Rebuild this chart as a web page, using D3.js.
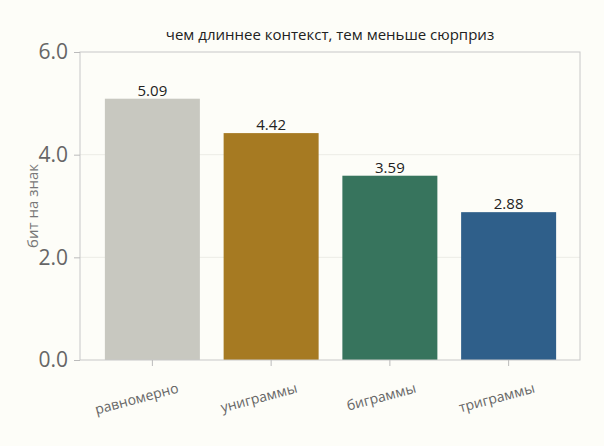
<!DOCTYPE html>
<html><head><meta charset="utf-8">
<script src="https://cdn.jsdelivr.net/npm/d3@7"></script>
<style>body{margin:0;background:#fdfdf8}svg{font-family:"Open Sans",sans-serif}</style>
</head><body><svg width="604" height="446"></svg>
<script>
const categories=["равномерно","униграммы","биграммы","триграммы"];
const values=[5.09,4.42,3.59,2.88];
const colors=["#c8c8c0","#a67a22","#37745d","#2f5f8a"];
const yTicks=[0,2,4,6];
const svg=d3.select("svg");
const L=80,R=580,T=52,B=360;
const x=d3.scaleBand().domain(categories).range([93,568]).paddingInner(0.2).paddingOuter(0.1);
const y=d3.scaleLinear().domain([0,6]).range([B,T]);
svg.append("rect").attr("width",604).attr("height",446).attr("fill","#fdfdf8");
svg.selectAll(".g").data([2,4]).enter().append("line").attr("x1",L).attr("x2",R)
 .attr("y1",d=>y(d)).attr("y2",d=>y(d)).attr("stroke","#ecece6").attr("stroke-width",1);
svg.selectAll(".b").data(values).enter().append("rect")
 .attr("x",(d,i)=>x(categories[i])).attr("width",x.bandwidth())
 .attr("y",d=>y(d)).attr("height",d=>B-y(d)).attr("fill",(d,i)=>colors[i]);
svg.selectAll(".v").data(values).enter().append("text")
 .attr("x",(d,i)=>x(categories[i])+x.bandwidth()/2).attr("y",d=>y(d)-3)
 .attr("text-anchor","middle").attr("font-size",15).attr("fill","#222").text(d=>d.toFixed(2));
svg.append("rect").attr("x",L).attr("y",T).attr("width",R-L).attr("height",B-T)
 .attr("fill","none").attr("stroke","#c8c8c8");
const ya=svg.append("g").attr("transform",`translate(${L},0)`).call(d3.axisLeft(y).tickValues(yTicks).tickSize(6).tickPadding(6));
ya.select(".domain").remove();
ya.selectAll("line").attr("stroke","#bbb");
ya.selectAll("text").attr("font-size",21).attr("fill","#666").attr("font-family","Open Sans");
const xa=svg.append("g").attr("transform",`translate(0,${B})`).call(d3.axisBottom(x).tickSize(6));
xa.select(".domain").remove();
xa.selectAll("line").attr("stroke","#bbb");
xa.selectAll("text").attr("font-size",14).attr("fill","#666").attr("text-anchor","end")
 .attr("transform","translate(22,14) rotate(-15)").attr("font-family","Open Sans");
svg.append("text").attr("transform",`translate(38,${(T+B)/2}) rotate(-90)`).attr("text-anchor","middle")
 .attr("font-size",15).attr("fill","#777").text("бит на знак");
svg.append("text").attr("x",330).attr("y",40).attr("text-anchor","middle").attr("font-size",15).attr("fill","#222")
 .text("чем длиннее контекст, тем меньше сюрприз");
</script></body></html>
